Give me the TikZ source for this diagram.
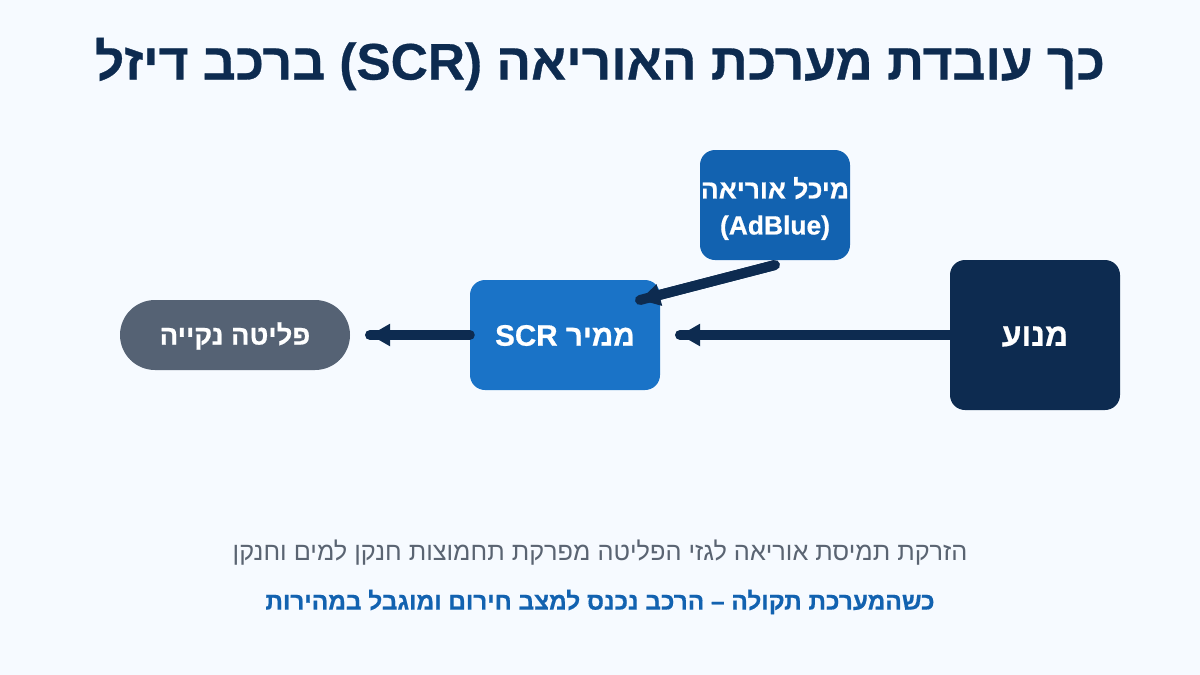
\documentclass[tikz,border=0pt]{standalone}
\usepackage{fontspec}
\setmainfont{Liberation Sans}
\newfontfamily\heb[Script=Hebrew]{Liberation Sans}
\newfontfamily\hebh[Script=Hebrew,FakeBold=0.6]{Liberation Sans Bold}
\TeXXeTstate=1
\definecolor{bgc}{HTML}{F6FAFF}
\definecolor{navy}{HTML}{0D2B50}
\definecolor{midb}{HTML}{1A73C7}
\definecolor{tankb}{HTML}{1262B0}
\definecolor{grayb}{HTML}{556274}
\definecolor{capt}{HTML}{5A6472}
\usetikzlibrary{arrows.meta}
\tikzset{
 box/.style={draw=none,align=center,text=white,inner sep=0pt,rounded corners=15pt},
 conn/.style={draw=navy,line width=10pt,line cap=round,
   postaction={draw=navy,line width=10pt,line cap=butt,-{Triangle[length=20pt,width=21pt]}}}
}
\newcommand{\fs}[1]{\hebh\fontsize{#1pt}{36pt}\selectfont}
\newcommand{\lowered}[2]{\raisebox{-#1}[\height][\depth]{#2}}
\begin{document}
\begin{tikzpicture}[x=1pt,y=-1pt]
\useasboundingbox (0,0) rectangle (1200,675);
\fill[bgc] (0,0) rectangle (1200,675);
\node (title) at (600,64) {\fs{51.4}\textcolor{navy}{\beginR כך עובדת מערכת האוריאה \beginL(SCR)\endL{} ברכב דיזל\endR}};
\node[box,minimum width=170pt,minimum height=150pt,fill=navy,font=\fs{32}] (engine) at (1035,335) {\lowered{1.5pt}{\beginR מנוע\endR}};
\node[box,minimum width=190pt,minimum height=110pt,fill=midb,font=\fs{29.6}] (scr) at (565,335) {\lowered{0.5pt}{\beginR ממיר \beginL SCR\endL\endR}};
\node[box,minimum width=150pt,minimum height=110pt,fill=tankb,font=\fs{26.4}] (tank) at (775,205) {\lowered{3.5pt}{\parbox{150pt}{\centering\beginR מיכל אוריאה\endR\\\beginR\beginL(AdBlue)\endL\endR}}};
\node[box,minimum width=230pt,minimum height=70pt,fill=grayb,rounded corners=35pt,font=\fs{27.4}] (clean) at (235,335) {\lowered{1pt}{\beginR פליטה נקייה\endR}};
\coordinate (engineend) at (680,335);
\coordinate (cleanend) at (370,335);
\coordinate (tankstart) at (775,265);
\coordinate (scrend) at (640,300);
\draw[conn] (engine.west) -- (engineend);
\draw[conn] (scr.west) -- (cleanend);
\draw[conn] (tankstart) -- (scrend);
\node (cap1) at (600,553) {\heb\fontsize{25.3pt}{28pt}\selectfont\textcolor{capt}{\beginR הזרקת תמיסת אוריאה לגזי הפליטה מפרקת תחמוצות חנקן למים וחנקן\endR}};
\node (cap2) at (600,602) {\fs{24.4}\textcolor{tankb}{\beginR כשהמערכת תקולה – הרכב נכנס למצב חירום ומוגבל במהירות\endR}};
\end{tikzpicture}
\end{document}
